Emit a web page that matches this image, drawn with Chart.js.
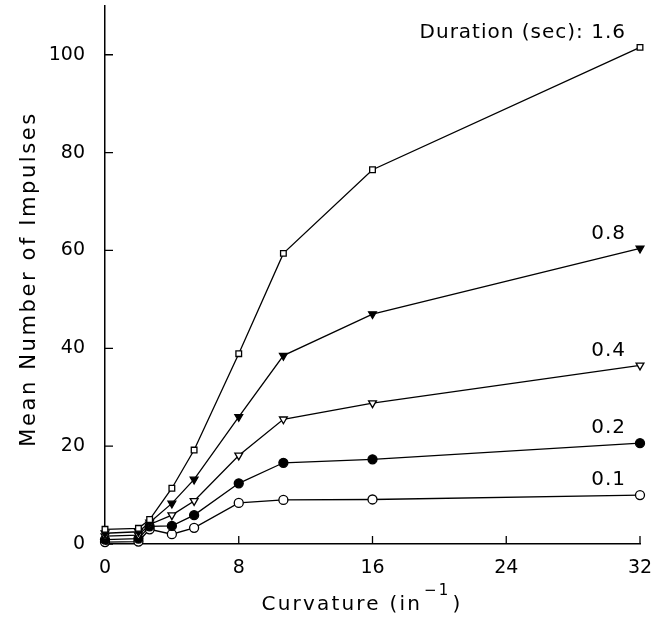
<!DOCTYPE html>
<html>
<head>
<meta charset="utf-8">
<script src="https://cdn.jsdelivr.net/npm/chart.js@4"></script>
<style>
  body { margin: 0; background: #fff; }
  #wrap { width: 652px; height: 632px; position: relative; }
</style>
</head>
<body>
<div id="wrap"><canvas id="chart"></canvas></div>
<script>
// curvature (1/in) and mean impulses per stimulus duration
var curvature = [0, 2, 2.67, 4, 5.33, 8, 10.67, 16, 32];
var dur16 = [3.0, 3.2, 5.0, 11.4, 19.2, 38.9, 59.4, 76.5, 101.5];
var dur08 = [2.2, 2.5, 4.4, 8.3, 13.2, 26.0, 38.5, 47.0, 60.4];
var dur04 = [1.6, 1.8, 4.0, 5.9, 8.8, 18.1, 25.5, 28.8, 36.5];
var dur02 = [0.9, 1.1, 3.6, 3.7, 5.9, 12.4, 16.6, 17.3, 20.6];
var dur01 = [0.4, 0.5, 3.0, 2.0, 3.3, 8.4, 9.0, 9.1, 10.0];
var seriesLabels = ["Duration (sec): 1.6", "0.8", "0.4", "0.2", "0.1"];
var xTicks = [0, 8, 16, 24, 32];
var yTicks = [0, 20, 40, 60, 80, 100];

var FONT = "DejaVu Sans";

function pts(ys) {
  return curvature.map(function (c, i) { return { x: c, y: ys[i] }; });
}

function series(label, ys, style, filled, rot) {
  return {
    label: label,
    data: pts(ys),
    borderColor: "#000",
    borderWidth: 1.3,
    pointStyle: style,
    pointRotation: rot || 0,
    pointRadius: style === "rect" ? 4 : 4.5,
    pointBorderWidth: 1.3,
    pointBorderColor: "#000",
    pointBackgroundColor: filled ? "#000" : "#fff",
    tension: 0,
    clip: false
  };
}

// inward tick marks, axis titles and the duration labels
var extras = {
  id: "extras",
  afterDraw: function (chart) {
    var ctx = chart.ctx, xs = chart.scales.x, ys = chart.scales.y;
    var area = chart.chartArea;
    ctx.save();
    ctx.strokeStyle = "#000";
    ctx.lineWidth = 1.3;
    ctx.beginPath();
    yTicks.forEach(function (v) {
      var py = ys.getPixelForValue(v);
      ctx.moveTo(area.left, py);
      ctx.lineTo(area.left + 8, py);
    });
    xTicks.forEach(function (v) {
      var px = xs.getPixelForValue(v);
      ctx.moveTo(px, area.bottom);
      ctx.lineTo(px, area.bottom - 8);
    });
    ctx.stroke();

    ctx.fillStyle = "#000";
    // series labels next to the last point
    ctx.font = "20px '" + FONT + "'";
    ctx.letterSpacing = "1px";
    ctx.textAlign = "right";
    ctx.textBaseline = "middle";
    chart.data.datasets.forEach(function (ds, i) {
      var meta = chart.getDatasetMeta(i);
      var p = meta.data[meta.data.length - 1];
      ctx.fillText(seriesLabels[i], p.x - 14, p.y - 15);
    });

    // x title with superscript
    ctx.letterSpacing = "2.2px";
    ctx.textAlign = "left";
    ctx.textBaseline = "alphabetic";
    var main = "Curvature (in", sup = "\u22121", close = ")";
    ctx.font = "20px '" + FONT + "'";
    var w1 = ctx.measureText(main).width;
    var w3 = ctx.measureText(close).width;
    ctx.font = "15px '" + FONT + "'";
    var w2 = ctx.measureText(sup).width;
    var x0 = 360 - (w1 + w2 + w3) / 2;
    var base = 610;
    ctx.font = "20px '" + FONT + "'";
    ctx.fillText(main, x0, base);
    ctx.font = "15px '" + FONT + "'";
    ctx.fillText(sup, x0 + w1 + 2, base - 15);
    ctx.font = "20px '" + FONT + "'";
    ctx.fillText(close, x0 + w1 + w2 + 4, base);

    // y title
    ctx.letterSpacing = "2.6px";
    ctx.font = "21px '" + FONT + "'";
    ctx.translate(30, (area.top + area.bottom) / 2 + 4);
    ctx.rotate(-Math.PI / 2);
    ctx.textAlign = "center";
    ctx.textBaseline = "middle";
    ctx.fillText("Mean Number of Impulses", 0, 0);
    ctx.restore();
  }
};

var context = document.getElementById("chart");
var chart = new Chart(context, {
  type: "line",
  data: {
    datasets: [
      series(seriesLabels[0], dur16, "rect", false),
      series(seriesLabels[1], dur08, "triangle", true, 180),
      series(seriesLabels[2], dur04, "triangle", false, 180),
      series(seriesLabels[3], dur02, "circle", true),
      series(seriesLabels[4], dur01, "circle", false)
    ]
  },
  options: {
    responsive: true,
    maintainAspectRatio: false,
    animation: false,
    layout: { padding: { top: 5, right: 12, left: 0, bottom: 0 } },
    plugins: { legend: { display: false }, tooltip: { enabled: false } },
    scales: {
      x: {
        type: "linear",
        min: 0, max: 32,
        grid: { display: false },
        border: { display: true, color: "#000", width: 1.5 },
        ticks: {
          stepSize: 8, padding: 5, color: "#000",
          font: { family: FONT, size: 19 }
        },
        afterFit: function (s) {
          s.height = 88;
          s.paddingLeft = 0;
          s.paddingRight = 0;
        }
      },
      y: {
        min: 0, max: 110,
        grid: { display: false },
        border: { display: true, color: "#000", width: 1.5 },
        ticks: {
          stepSize: 20, padding: 12, color: "#000",
          font: { family: FONT, size: 19 }
        },
        afterBuildTicks: function (s) {
          s.ticks = yTicks.map(function (v) { return { value: v }; });
        },
        afterFit: function (s) {
          s.width = 105;
          s.paddingTop = 0;
          s.paddingBottom = 0;
        }
      }
    }
  },
  plugins: [extras]
});
</script>
</body>
</html>
